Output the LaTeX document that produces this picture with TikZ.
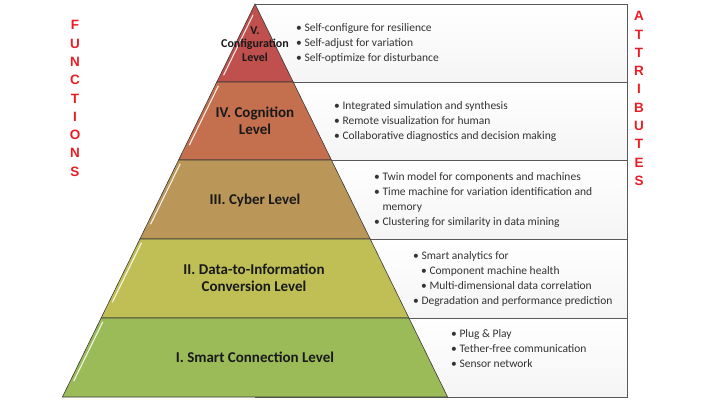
\documentclass[tikz,border=0pt]{standalone}
\usepackage{fontspec}
\setmainfont{Carlito}
\newfontfamily\redfont{Liberation Sans}
\definecolor{cV}{RGB}{192,80,77}
\definecolor{cIV}{RGB}{196,112,78}
\definecolor{cIII}{RGB}{186,150,88}
\definecolor{cII}{RGB}{191,191,86}
\definecolor{cI}{RGB}{155,187,89}
\definecolor{redtxt}{RGB}{236,28,36}
\begin{document}
\begin{tikzpicture}[x=1pt,y=-1pt,
  band/.style={draw=gray!45!black, line width=0.6pt},
  attrbox/.style={draw=gray!70!black, line width=0.6pt, top color=white, bottom color=gray!8},
  gloss/.style={white, line width=1.1pt, opacity=0.85, line cap=round},
  lvl/.style={font=\fontsize{15}{16.5}\selectfont\bfseries, text=black!90, align=center, inner sep=0pt},
  items/.style={font=\fontsize{11.5}{15}\selectfont, text=black!80, align=left, anchor=west, inner sep=0pt},
  vert/.style={font=\redfont\bfseries\fontsize{13.5}{18.3}\selectfont, text=redtxt, align=center, inner sep=0pt}]
\useasboundingbox (0,0) rectangle (712,404);
% attribute boxes
\draw[attrbox] (255,4) rectangle (627,82);
\draw[attrbox] (255,82) rectangle (627,160);
\draw[attrbox] (255,160) rectangle (627,239);
\draw[attrbox] (255,239) rectangle (627,318);
\draw[attrbox] (255,318) rectangle (627,397);
% pyramid bands
\draw[band, fill=cV] (255,4) -- (293.2,82) -- (216.8,82) -- cycle;
\draw[band, fill=cIV] (216.8,82) -- (293.2,82) -- (331.4,160) -- (178.6,160) -- cycle;
\draw[band, fill=cIII] (178.6,160) -- (331.4,160) -- (370.2,239) -- (139.9,239) -- cycle;
\draw[band, fill=cII] (139.9,239) -- (370.2,239) -- (408.9,318) -- (101.1,318) -- cycle;
\draw[band, fill=cI] (101.1,318) -- (408.9,318) -- (447.6,397) -- (62.4,397) -- cycle;
% gloss highlights
\draw[gloss] (253,15) -- (223.7,75);
\draw[gloss] (218.3,86) -- (189.4,145);
\draw[gloss] (180.1,164) -- (150.7,224);
\draw[gloss] (141.4,243) -- (112.5,302);
\draw[gloss] (102.7,322) -- (73.8,381);
% level labels
\node[lvl, font=\fontsize{12}{13.5}\selectfont\bfseries] (l5) at (255,44) {V.\\Configuration\\Level};
\node[lvl] (l4) at (255,121) {IV. Cognition\\Level};
\node[lvl] (l3) at (255,200) {III. Cyber Level};
\node[lvl] (l2) at (254,278) {II. Data-to-Information\\Conversion Level};
\node[lvl] (l1) at (255,357) {I. Smart Connection Level};
% attributes
\node[items] (a5) at (296,43) {\textbullet\ Self-configure for resilience\\\textbullet\ Self-adjust for variation\\\textbullet\ Self-optimize for disturbance};
\node[items] (a4) at (334,121) {\textbullet\ Integrated simulation and synthesis\\\textbullet\ Remote visualization for human\\\textbullet\ Collaborative diagnostics and decision making};
\node[items] (a3) at (374,200) {\textbullet\ Twin model for components and machines\\\textbullet\ Time machine for variation identification and\\\phantom{\textbullet\ }memory\\\textbullet\ Clustering for similarity in data mining};
\node[items] (a2) at (413,278.5) {\textbullet\ Smart analytics for\\\hspace*{8pt}\textbullet\ Component machine health\\\hspace*{8pt}\textbullet\ Multi-dimensional data correlation\\\textbullet\ Degradation and performance prediction};
\node[items] (a1) at (451,349) {\textbullet\ Plug \& Play\\\textbullet\ Tether-free communication\\\textbullet\ Sensor network};
% side titles
\node[vert] (fun) at (75,98.5) {F\\U\\N\\C\\T\\I\\O\\N\\S};
\node[vert] (att) at (639,98.5) {A\\T\\T\\R\\I\\B\\U\\T\\E\\S};
\end{tikzpicture}
\end{document}
